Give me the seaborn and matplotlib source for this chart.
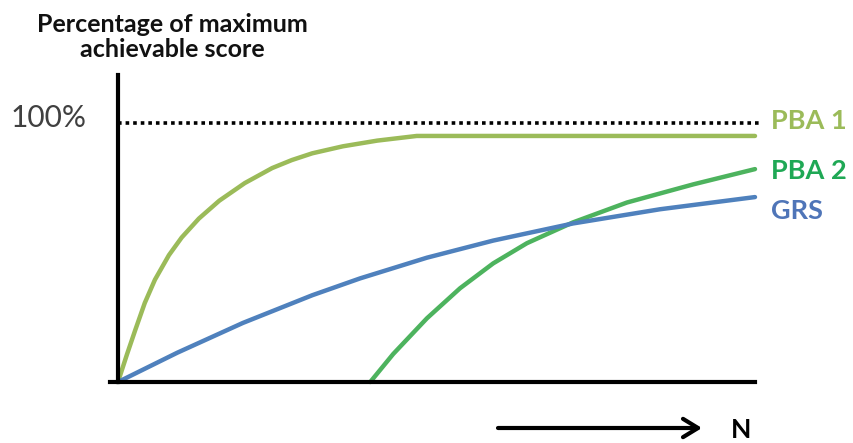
import matplotlib
matplotlib.use("Agg")
import matplotlib.pyplot as plt
import seaborn as sns
import pandas as pd

# ---- data ----
pba1_x = [0, 1.4, 2.7, 4.2, 5.8, 8.0, 10.0, 12.7, 15.9, 19.9, 24.2, 27.3, 30.5,
          35.3, 40.7, 46.9, 60, 80, 100]
pba1_y = [0, 10.6, 20.0, 30.5, 39.5, 49.0, 55.8, 63.1, 70.0, 76.8, 82.6, 85.7, 88.3,
          91.0, 93.2, 95.0, 95.0, 95.0, 95.0]

grs_x = [0, 9.3, 19.6, 30.5, 38.0, 48.5, 58.9, 71.4, 85.1, 100]
grs_y = [0, 11.3, 22.8, 33.5, 40.0, 48.0, 54.6, 61.2, 66.7, 71.4]

pba2_x = [39.6, 43.2, 48.5, 53.7, 58.9, 64.2, 71.4, 79.9, 90.3, 100]
pba2_y = [0, 10.8, 24.6, 36.2, 45.8, 53.6, 61.6, 69.3, 76.3, 82.2]

series_names = ["PBA 1", "PBA 2", "GRS"]
line_colors = {"PBA 1": "#9BBB59", "PBA 2": "#4DB35E", "GRS": "#4F81BD"}
label_colors = {"PBA 1": "#9BBB59", "PBA 2": "#1FA855", "GRS": "#4F75B8"}
max_level = 100
y_title = "Percentage of maximum\nachievable score"
x_label = "N"

df = pd.concat([
    pd.DataFrame({"N": pba1_x, "score": pba1_y, "series": "PBA 1"}),
    pd.DataFrame({"N": pba2_x, "score": pba2_y, "series": "PBA 2"}),
    pd.DataFrame({"N": grs_x, "score": grs_y, "series": "GRS"}),
])

sns.set_theme(style="white")
plt.rcParams["font.family"] = ["Lato", "DejaVu Sans"]

W, H = 854, 443
fig = plt.figure(figsize=(W / 100, H / 100), dpi=100)
left_px, bottom_px, right_px, top_px = 118, 382, 755, 75
ax = fig.add_axes([left_px / W, (H - bottom_px) / H,
                   (right_px - left_px) / W, (bottom_px - top_px) / H])

sns.lineplot(data=df, x="N", y="score", hue="series", hue_order=series_names,
             palette=line_colors, linewidth=3.2, legend=False, ax=ax, sort=False,
             estimator=None)
for ln in ax.lines:
    ln.set_solid_capstyle("round")
    ln.set_solid_joinstyle("round")
    ln.set_clip_on(False)

ax.set_xlim(0, 100)
ax.set_ylim(0, (bottom_px - top_px) / 2.59)
ax.set_xticks([])
ax.set_yticks([])
ax.set_xlabel("")
ax.set_ylabel("")

# dotted 100% line
ax.axhline(max_level, xmin=0, xmax=(762 - left_px) / (right_px - left_px),
           color="black", lw=2.6, ls=(0, (1, 1.1)), clip_on=False, zorder=1)

for s in ["top", "right"]:
    ax.spines[s].set_visible(False)
for s in ["left", "bottom"]:
    ax.spines[s].set_color("black")
    ax.spines[s].set_linewidth(3)
ax.spines["bottom"].set_bounds(-1.2, 100)

# texts
def fy(y):
    return 1 - y / H

fig.text(172 / W, fy(37), y_title, ha="center", va="center", fontsize=18,
         fontweight="bold", color="#111111", linespacing=1.12)
fig.text(11 / W, fy(118), f"{max_level}%", ha="left", va="center", fontsize=21.5,
         color="#404040")

label_y = {"PBA 1": 121, "PBA 2": 171, "GRS": 211}
for name in series_names:
    fig.text(771 / W, fy(label_y[name]), name, ha="left", va="center",
             fontsize=19.5, fontweight="bold", color=label_colors[name])

ax.annotate("", xy=(702, H - 428), xytext=(498, H - 428),
            xycoords="figure pixels", textcoords="figure pixels",
            arrowprops=dict(arrowstyle="->,head_length=0.9,head_width=0.55",
                            lw=3, color="black", shrinkA=0, shrinkB=0))
fig.text(731 / W, fy(430), x_label, ha="left", va="center", fontsize=19,
         fontweight="bold", color="black")

fig.savefig("out.png", dpi=100, facecolor="white")
